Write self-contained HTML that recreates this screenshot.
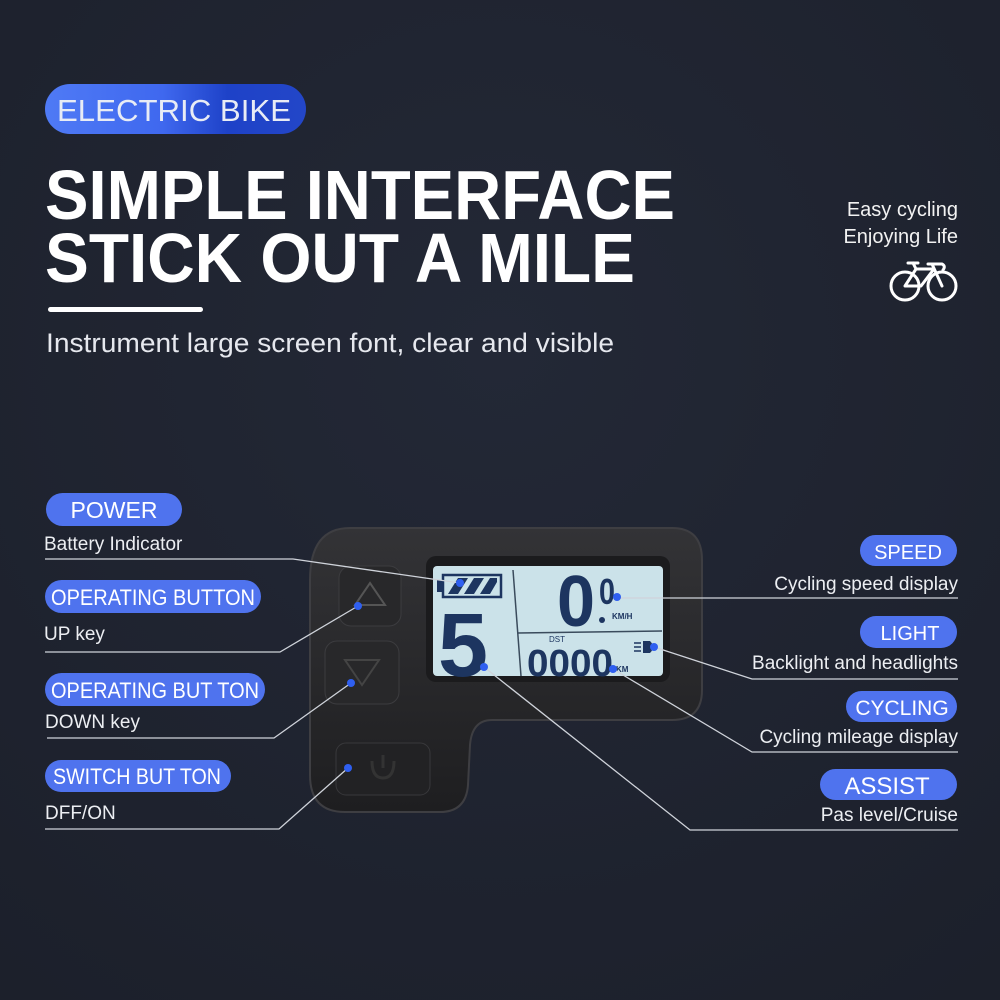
<!DOCTYPE html>
<html><head><meta charset="utf-8"><style>
html,body{margin:0;padding:0;background:#1f2330;}
svg{display:block}
text{font-family:"Liberation Sans",sans-serif;}
</style></head><body>
<svg width="1000" height="1000" viewBox="0 0 1000 1000" xmlns="http://www.w3.org/2000/svg">
<defs>
<linearGradient id="pg" x1="0" x2="1" y1="0" y2="0">
<stop offset="0" stop-color="#4f7af5"/><stop offset="0.45" stop-color="#3f68ef"/><stop offset="0.7" stop-color="#1e42c8"/><stop offset="1" stop-color="#2346c8"/>
</linearGradient>
<radialGradient id="bg" cx="0.5" cy="0.35" r="0.8"><stop offset="0" stop-color="#232836"/><stop offset="1" stop-color="#1c202b"/></radialGradient>
<linearGradient id="body" x1="0" y1="0" x2="0" y2="1"><stop offset="0" stop-color="#333336"/><stop offset="1" stop-color="#1e1e20"/></linearGradient>
</defs>
<rect width="1000" height="1000" fill="url(#bg)"/>

<rect x="45" y="84" width="261" height="50" rx="25" fill="url(#pg)"/>
<text x="57" y="121" font-size="31" fill="#e8ecf5" textLength="234" lengthAdjust="spacingAndGlyphs">ELECTRIC BIKE</text>

<text x="45" y="219" font-size="70" font-weight="bold" fill="#fff" textLength="630" lengthAdjust="spacingAndGlyphs">SIMPLE INTERFACE</text>
<text x="45" y="282" font-size="70" font-weight="bold" fill="#fff" textLength="590" lengthAdjust="spacingAndGlyphs">STICK OUT A MILE</text>
<rect x="48" y="307" width="155" height="5" rx="2.5" fill="#fff"/>
<text x="46" y="352" font-size="27" fill="#e6e8ee" textLength="568" lengthAdjust="spacingAndGlyphs">Instrument large screen font, clear and visible</text>

<text x="958" y="216" font-size="20" fill="#f2f2f2" text-anchor="end">Easy cycling</text>
<text x="958" y="243" font-size="20" fill="#f2f2f2" text-anchor="end">Enjoying Life</text>
<g fill="none" stroke="#fff" stroke-width="3" stroke-linecap="round" stroke-linejoin="round">
<circle cx="905" cy="286" r="14"/><circle cx="942" cy="286" r="14"/>
<path d="M905 286 L916 269 L934 269 L921 286 Z M942 286 L932 264 M928 264 L942 264 Q946 266 943 270 M916 269 L913 263 M908 263 L918 263"/>
</g>

<!-- device -->
<path d="M350 528 L672 528 Q702 528 702 560 L702 690 Q702 720 672 720 L492 720 Q472 720 470 745 L468 785 Q466 812 440 812 L345 812 Q310 812 310 775 L310 580 Q310 528 350 528 Z" fill="url(#body)" stroke="#3e3e42" stroke-width="2"/>
<rect x="426" y="556" width="244" height="126" rx="10" fill="#1b1b1d"/>
<rect x="433" y="566" width="230" height="110" rx="4" fill="#cbe2e9"/>
<line x1="513" y1="570" x2="521" y2="676" stroke="#3a4b5c" stroke-width="1.5"/>
<line x1="518" y1="633" x2="662" y2="631" stroke="#3a4b5c" stroke-width="1.5"/>
<rect x="443" y="575" width="58" height="22" fill="none" stroke="#1d3560" stroke-width="2.5"/>
<rect x="437" y="580" width="6" height="12" fill="#1d3560"/>
<path d="M448 594 L458 578 L468 578 L458 594Z M464 594 L474 578 L484 578 L474 594Z M480 594 L490 578 L497 578 L497 582 L490 594Z" fill="#1d3560"/>
<text x="438" y="676" font-size="90" font-weight="bold" fill="#1d3560" textLength="50" lengthAdjust="spacingAndGlyphs">5</text>
<text x="557" y="626" font-size="72" font-weight="bold" fill="#1d3560" textLength="38" lengthAdjust="spacingAndGlyphs">0</text>
<text x="599" y="604" font-size="36" font-weight="bold" fill="#1d3560" textLength="16" lengthAdjust="spacingAndGlyphs">0</text>
<circle cx="602" cy="620" r="3" fill="#1d3560"/>
<text x="612" y="619" font-size="8" font-weight="bold" fill="#1d3560">KM/H</text>
<text x="549" y="642" font-size="8" fill="#1d3560">DST</text>
<text x="527" y="676" font-size="38" font-weight="bold" fill="#1d3560" textLength="86" lengthAdjust="spacingAndGlyphs">0000</text>
<text x="616" y="672" font-size="8" font-weight="bold" fill="#1d3560">KM</text>
<path d="M643 641 L650 641 Q656 647 650 653 L643 653 Z" fill="#1d3560"/>
<path d="M634 643 H641 M634 647 H641 M634 651 H641" stroke="#1d3560" stroke-width="1.5"/>
<rect x="339" y="566" width="62" height="60" rx="12" fill="#28282a" stroke="#3c3c3f"/>
<path d="M370 583 L385 605 L355 605 Z" fill="none" stroke="#555" stroke-width="2"/>
<rect x="325" y="641" width="74" height="63" rx="12" fill="#28282a" stroke="#3c3c3f"/>
<path d="M345 660 L379 660 L362 685 Z" fill="none" stroke="#444" stroke-width="2"/>
<rect x="336" y="743" width="94" height="52" rx="10" fill="#222224" stroke="#38383b"/>
<path d="M372 761 Q372 778 383 778 Q394 778 394 761 M383 755 V768" fill="none" stroke="#333" stroke-width="3"/>

<g fill="none" stroke="#cfd3da" stroke-width="1.3">
<polyline points="45,559 293,559 460,583"/>
<polyline points="45,652 280,652 358,606"/>
<polyline points="47,738 274,738 351,683"/>
<polyline points="45,829 279,829 348,768"/>
<polyline points="958,598 617,598"/>
<polyline points="958,679 752,679 654,647"/>
<polyline points="958,752 752,752 613,669"/>
<polyline points="958,830 690,830 484,667"/>
</g>
<g fill="#2f5ff0">
<circle cx="460" cy="583" r="4"/><circle cx="358" cy="606" r="4"/><circle cx="351" cy="683" r="4"/><circle cx="348" cy="768" r="4"/>
<circle cx="617" cy="597" r="4"/><circle cx="654" cy="647" r="4"/><circle cx="613" cy="669" r="4"/><circle cx="484" cy="667" r="4"/>
</g>

<g fill="#4f73ee">
<rect x="46" y="493" width="136" height="33" rx="16.5"/>
<rect x="45" y="580" width="216" height="33" rx="16.5"/>
<rect x="45" y="673" width="220" height="33" rx="16.5"/>
<rect x="45" y="760" width="186" height="32" rx="16"/>
<rect x="860" y="535" width="97" height="31" rx="15.5"/>
<rect x="860" y="616" width="97" height="32" rx="16"/>
<rect x="846" y="691" width="111" height="31" rx="15.5"/>
<rect x="820" y="769" width="137" height="31" rx="15.5"/>
</g>
<g fill="#fff" font-size="22">
<text x="114" y="518" text-anchor="middle" font-size="23">POWER</text>
<text x="153" y="605" text-anchor="middle" textLength="204" lengthAdjust="spacingAndGlyphs">OPERATING BUTTON</text>
<text x="155" y="698" text-anchor="middle" textLength="208" lengthAdjust="spacingAndGlyphs">OPERATING BUT TON</text>
<text x="137" y="784" text-anchor="middle" textLength="168" lengthAdjust="spacingAndGlyphs">SWITCH BUT TON</text>
<text x="908" y="559" text-anchor="middle" font-size="20">SPEED</text>
<text x="910" y="640" text-anchor="middle" font-size="20">LIGHT</text>
<text x="902" y="715" text-anchor="middle" font-size="21">CYCLING</text>
<text x="887" y="794" text-anchor="middle" font-size="24">ASSIST</text>
</g>
<g fill="#eceef2" font-size="19">
<text x="44" y="550">Battery Indicator</text>
<text x="44" y="640">UP key</text>
<text x="45" y="728">DOWN key</text>
<text x="45" y="819">DFF/ON</text>
<text x="958" y="590" text-anchor="end">Cycling speed display</text>
<text x="958" y="669" text-anchor="end">Backlight and headlights</text>
<text x="958" y="743" text-anchor="end">Cycling mileage display</text>
<text x="958" y="821" text-anchor="end">Pas level/Cruise</text>
</g>
</svg>
</body></html>
